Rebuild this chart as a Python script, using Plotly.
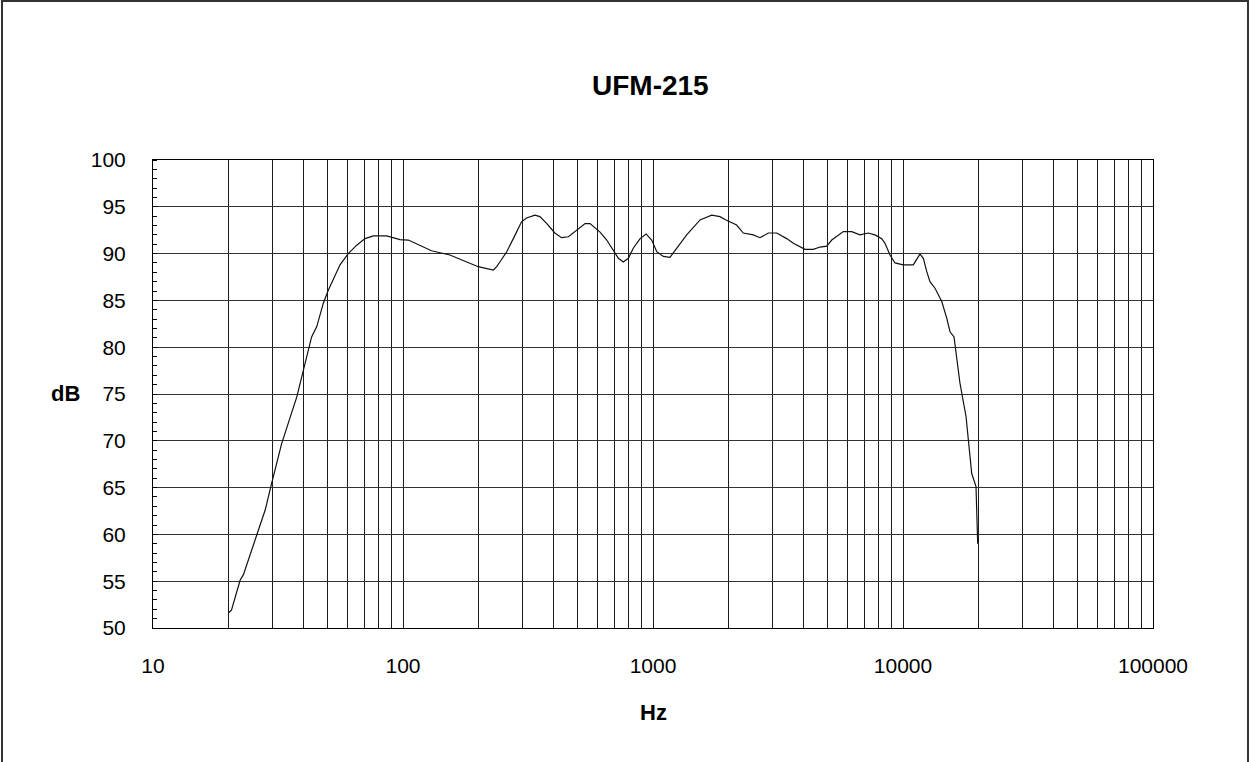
import plotly.graph_objects as go

title_text = "UFM-215"
x_title = "Hz"
y_title = "dB"

freq_hz = [20, 20.6, 22.3, 23.0, 25.6, 28.1, 29.6, 32.7, 37.6, 39.9,
           43.1, 45.2, 48.0, 50.3, 56.0, 60.4, 65.3, 70.5, 76.1, 86.0,
           97.3, 105, 130, 154, 174, 200, 230, 237, 244, 260,
           281, 298, 312, 337, 353, 376, 405, 431, 459, 495,
           535, 560, 614, 653, 694, 727, 761, 797, 835, 888,
           938, 988, 1035, 1100, 1169, 1244, 1364, 1542, 1717, 1854,
           1941, 2161, 2297, 2519, 2679, 2893, 3125, 3426, 3643, 4055,
           4377, 4656, 4954, 5188, 5771, 6236, 6730, 7266, 7727, 8221,
           8472, 8872, 9290, 10030, 10990, 11690, 12060, 12440, 12820, 13430,
           14280, 14960, 15420, 16000, 16900, 17870, 18830, 19590, 19900]

level_db = [51.6, 51.9, 55.1, 55.7, 59.4, 62.6, 65.1, 69.7, 74.7, 77.6,
            81.1, 82.2, 84.7, 86.1, 88.8, 90.0, 90.9, 91.6, 91.9, 91.9,
            91.5, 91.45, 90.3, 89.85, 89.3, 88.6, 88.25, 88.6, 89.1, 90.2,
            92.0, 93.4, 93.8, 94.1, 93.95, 93.2, 92.2, 91.7, 91.8, 92.5,
            93.2, 93.2, 92.3, 91.45, 90.4, 89.5, 89.1, 89.5, 90.6, 91.6,
            92.1, 91.45, 90.2, 89.7, 89.6, 90.6, 92.0, 93.6, 94.1, 93.95,
            93.65, 93.05, 92.2, 92.0, 91.7, 92.2, 92.2, 91.6, 91.1, 90.45,
            90.45, 90.7, 90.8, 91.45, 92.35, 92.35, 92.0, 92.2, 92.0, 91.6,
            91.1, 89.85, 89.0, 88.8, 88.8, 89.95, 89.5, 88.1, 87.0, 86.3,
            84.9, 83.1, 81.65, 81.1, 76.15, 72.6, 66.5, 65.1, 59.0]

x_decades = [10, 100, 1000, 10000]
x_grid_vals = [d * m for d in x_decades for m in range(1, 10)] + [100000]
x_tick_text = [str(v) if v in (10, 100, 1000, 10000, 100000) else "" for v in x_grid_vals]
y_tick_vals = [50, 55, 60, 65, 70, 75, 80, 85, 90, 95, 100]

FONT = "Liberation Sans, Arial, sans-serif"

fig = go.Figure()
fig.add_trace(go.Scatter(
    x=freq_hz, y=level_db, mode="lines",
    line=dict(color="#111111", width=1.2),
    showlegend=False, hoverinfo="skip",
))

fig.update_layout(
    width=1250, height=762,
    margin=dict(l=153, r=97, t=160, b=134),
    paper_bgcolor="white", plot_bgcolor="white",
    font=dict(family=FONT, size=21, color="black"),
    showlegend=False,
)

fig.update_xaxes(
    type="log", range=[1, 5],
    tickmode="array", tickvals=x_grid_vals, ticktext=x_tick_text,
    showgrid=True, gridcolor="#1a1a1a", gridwidth=1,
    showline=True, linecolor="black", linewidth=1, mirror=True,
    ticks="", ticklabelstandoff=19,
    tickfont=dict(family=FONT, size=21, color="black"),
    zeroline=False,
)
fig.update_yaxes(
    range=[50, 100],
    tickmode="array", tickvals=y_tick_vals,
    showgrid=True, gridcolor="#333333", gridwidth=1,
    showline=True, linecolor="black", linewidth=1, mirror=True,
    ticks="", ticklabelstandoff=22,
    tickfont=dict(family=FONT, size=21, color="black"),
    minor=dict(dtick=1, ticks="inside", ticklen=4, tickcolor="black", tickwidth=1, showgrid=False),
    zeroline=False,
)

fig.add_annotation(text="<b>" + title_text + "</b>", xref="paper", yref="paper",
                   x=0.497, y=(628 - 86) / 468, xanchor="center", yanchor="middle",
                   showarrow=False, font=dict(family=FONT, size=28, color="black"))
fig.add_annotation(text="<b>" + y_title + "</b>", xref="paper", yref="paper",
                   x=(65 - 153) / 1000, y=(628 - 393) / 468, xanchor="center", yanchor="middle",
                   showarrow=False, font=dict(family=FONT, size=22, color="black"))
fig.add_annotation(text="<b>" + x_title + "</b>", xref="paper", yref="paper",
                   x=0.5, y=(628 - 712) / 468, xanchor="center", yanchor="middle",
                   showarrow=False, font=dict(family=FONT, size=22, color="black"))

# outer frame (bottom edge lies outside the visible page)
fig.add_shape(type="rect", xref="paper", yref="paper",
              x0=(2 - 153) / 1000, x1=(1248 - 153) / 1000,
              y0=(628 - 800) / 468, y1=(628 - 1) / 468,
              line=dict(color="#333333", width=2), layer="above")

fig.write_html("out.html")
